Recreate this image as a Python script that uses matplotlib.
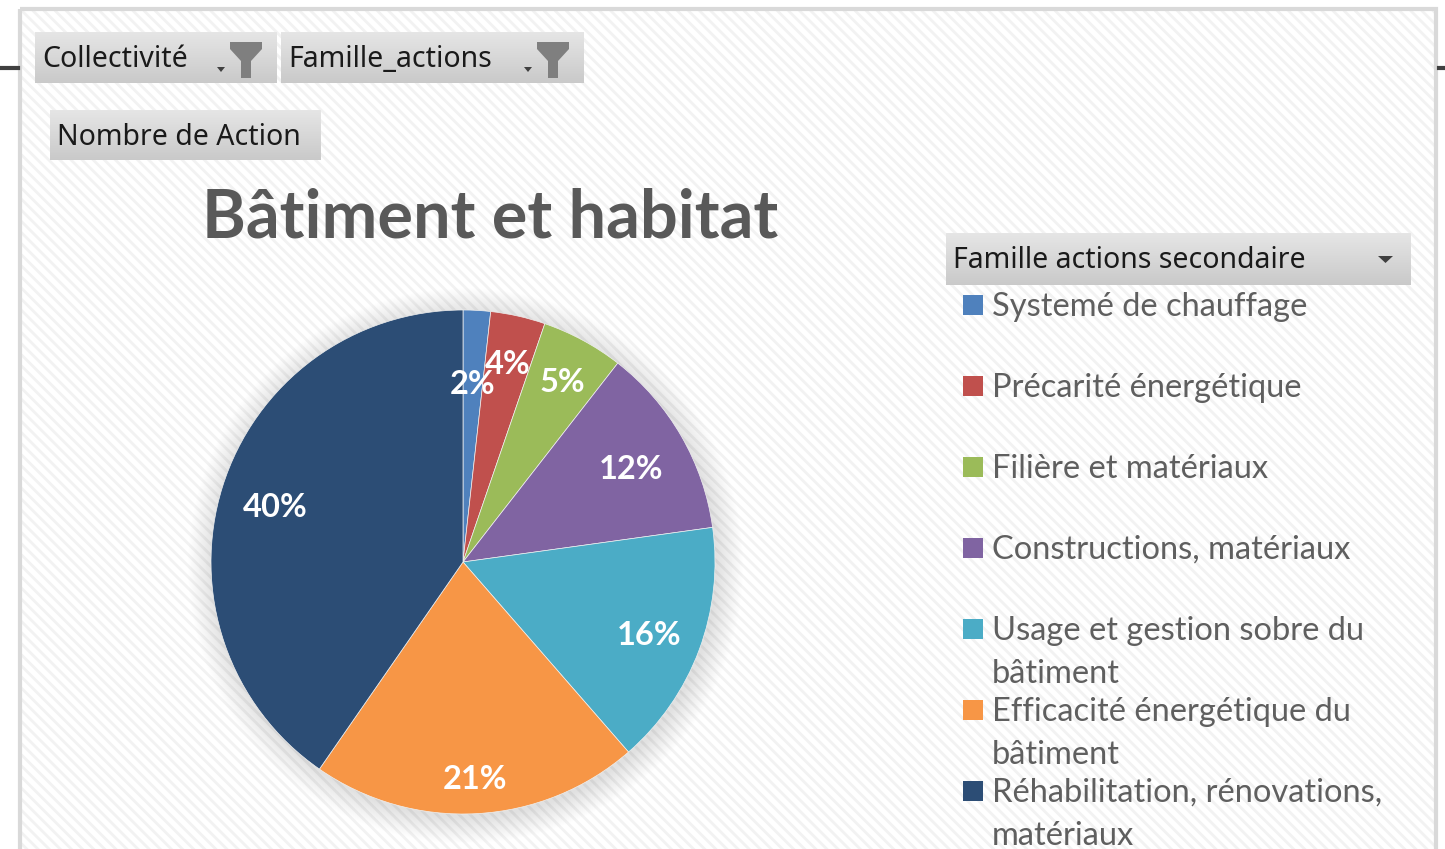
import numpy as np
import matplotlib
matplotlib.use("Agg")
import matplotlib.pyplot as plt
from matplotlib.patches import Rectangle, Circle, Polygon

# Données (Nombre de Action par famille secondaire)
familles = [
    "Systemé de chauffage",
    "Précarité énergétique",
    "Filière et matériaux",
    "Constructions, matériaux",
    "Usage et gestion sobre du\nbâtiment",
    "Efficacité énergétique du\nbâtiment",
    "Réhabilitation, rénovations,\nmatériaux",
]
nb_actions = [1, 2, 3, 7, 9, 12, 23]
couleurs = ["#4F81BD", "#C0504D", "#9BBB59", "#8064A2", "#4BACC6", "#F79646", "#2C4D75"]

titre = "Bâtiment et habitat"
filtres = ["Collectivité", "Famille_actions"]
valeur = "Nombre de Action"
legende_titre = "Famille actions secondaire"

W, H = 1445, 849
plt.rcParams['hatch.linewidth'] = 2.0

fig = plt.figure(figsize=(W / 100, H / 100), dpi=100)
fig.patch.set_facecolor("white")

# axe "pixels" pour le décor
bg = fig.add_axes([0, 0, 1, 1])
bg.set_xlim(0, W)
bg.set_ylim(H, 0)
bg.axis("off")

# fond rayé de la zone graphique
bg.add_patch(Rectangle((20, 9), 1416, H, facecolor="white", edgecolor="#f2f2f2",
                       hatch="\\\\\\", linewidth=0, zorder=0))
bg.add_patch(Rectangle((20, 9), 1416, H + 10, facecolor="none", edgecolor="#d9d9d9",
                       linewidth=3, zorder=1))
bg.plot([0, 18], [68, 68], color="#404040", lw=3, zorder=1)
bg.plot([1439, W], [68, 68], color="#404040", lw=3, zorder=1)


def bouton(x0, y0, x1, y1):
    grad = np.linspace(0, 1, 50).reshape(-1, 1)
    top = np.array([0.90, 0.90, 0.90])
    bot = np.array([0.79, 0.79, 0.79])
    img = top + (bot - top) * grad[..., None]
    bg.imshow(img, extent=[x0, x1, y1, y0], aspect="auto", zorder=2)


def entonnoir(x, y):
    pts = [(x, y), (x + 32, y), (x + 32, y + 7), (x + 21, y + 19),
           (x + 21, y + 36), (x + 11, y + 36), (x + 11, y + 19), (x, y + 7)]
    bg.add_patch(Polygon(pts, closed=True, facecolor="#7f7f7f", edgecolor="none", zorder=3))
    bg.add_patch(Polygon([(x - 13, y + 25), (x - 5, y + 25), (x - 9, y + 30)],
                         closed=True, facecolor="#404040", edgecolor="none", zorder=3))


# boutons de filtre
bouton(35, 32, 277, 83)
bouton(281, 32, 584, 83)
bg.text(42, 59, filtres[0], fontsize=20.5, family="Noto Sans", color="#1a1a1a",
        va="center", ha="left", zorder=4)
bg.text(288, 59, filtres[1], fontsize=20.5, family="Noto Sans", color="#1a1a1a",
        va="center", ha="left", zorder=4)
entonnoir(230, 42)
entonnoir(537, 42)

bouton(50, 110, 321, 160)
bg.text(57, 137, valeur, fontsize=20.5, family="Noto Sans", color="#1a1a1a",
        va="center", ha="left", zorder=4)

# titre
bg.text(490, 218, titre, fontsize=48, family="Lato", fontweight="bold",
        color="#595959", ha="center", va="center", zorder=4)

# légende
bouton(946, 233, 1411, 285)
bg.text(953, 261, legende_titre, fontsize=20.5, family="Noto Sans", color="#1a1a1a",
        va="center", ha="left", zorder=4)
bg.add_patch(Polygon([(1378, 256), (1393, 256), (1385.5, 263)], closed=True,
                     facecolor="#404040", edgecolor="none", zorder=4))
for i, (lab, col) in enumerate(zip(familles, couleurs)):
    y = 305 + i * 81
    bg.add_patch(Rectangle((963, y - 10), 20, 20, facecolor=col, edgecolor="none", zorder=4))
    for j, ligne in enumerate(lab.split("\n")):
        bg.text(992, y + 11 + 43 * j, ligne, fontsize=23.5, family="Lato", color="#5f5f5f",
                va="baseline", ha="left", zorder=4)

# camembert
cx, cy, r = 463, 562, 252
pad = 1.2
ax = fig.add_axes([(cx - r * pad) / W, (H - cy - r * pad) / H, 2 * r * pad / W, 2 * r * pad / H])

# ombre douce
for k in range(30):
    ax.add_patch(Circle((0.01, -0.015), 1.0 + 0.0035 * k, facecolor="#000000",
                        alpha=0.005, edgecolor="none", zorder=0))

wedges, _, autotexts = ax.pie(
    nb_actions, colors=couleurs, startangle=90, counterclock=False,
    autopct=lambda p: f"{p:.0f}%", radius=1.0, frame=True,
    wedgeprops=dict(linewidth=0.5, edgecolor="#f0f0f0"),
    textprops=dict(color="white", fontsize=23.5, fontweight="bold", family="Lato"),
)
ax.set_xlim(-pad, pad)
ax.set_ylim(-pad, pad)
ax.axis("off")

dist_labels = [0.72, 0.82, 0.83, 0.77, 0.79, 0.85, 0.78]
for w, t, d in zip(wedges, autotexts, dist_labels):
    a = np.deg2rad((w.theta1 + w.theta2) / 2)
    t.set_position((d * np.cos(a), d * np.sin(a) - 0.016))
    t.set_zorder(5)

fig.savefig("out.png", dpi=100, facecolor="white")
